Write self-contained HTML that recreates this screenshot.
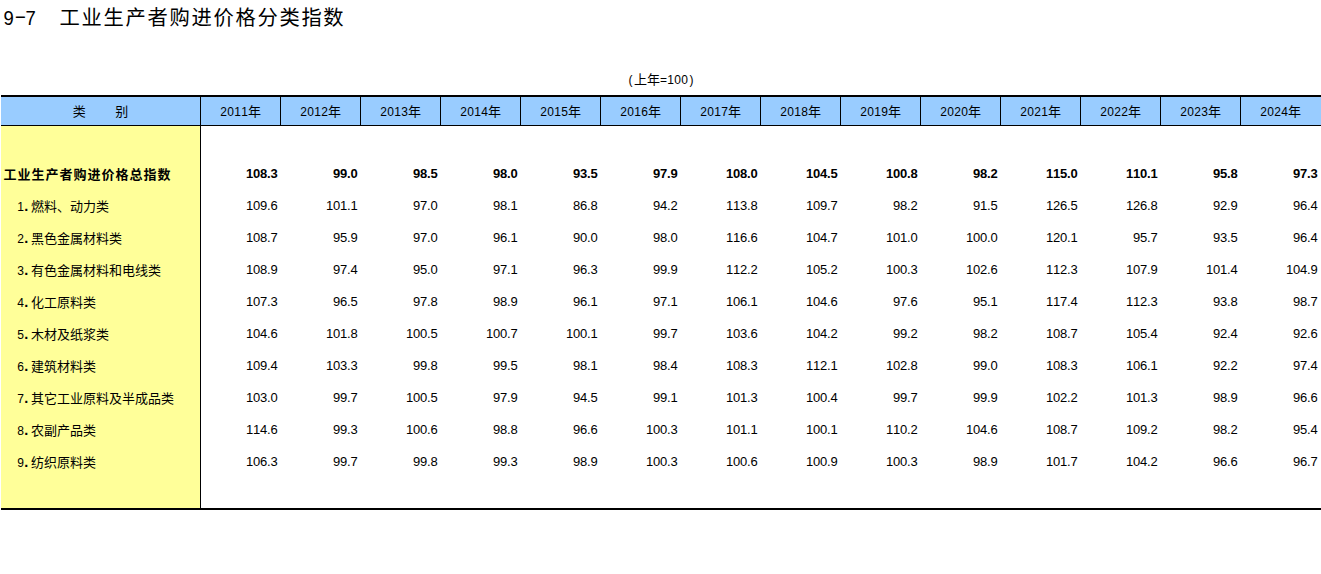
<!DOCTYPE html>
<html lang="zh-CN"><head><meta charset="utf-8"><title>9-7 工业生产者购进价格分类指数</title>
<style>
html,body{margin:0;padding:0;background:#fff;}
body{width:1321px;height:574px;position:relative;overflow:hidden;color:#000;
 font-family:"Liberation Sans","Noto Sans CJK SC",sans-serif;font-size:13px;}
.a{position:absolute;white-space:nowrap;}
.title{left:3px;top:5px;font-family:"Liberation Sans","Noto Sans CJK SC",sans-serif;font-size:20.3px;line-height:26px;font-weight:400;letter-spacing:1.7px;}
.title .d{position:relative;top:0px;left:-0.3px;display:inline-block;width:11px;text-align:center;letter-spacing:0;font-family:"Liberation Sans",sans-serif;font-size:20.5px;transform:scaleX(0.9);}
.title .sp{display:inline-block;width:23.6px;}
.s{font-family:"Liberation Sans","Noto Sans CJK SC",sans-serif;font-weight:400;font-size:13px;height:16px;line-height:16px;}
i{font-style:normal;display:inline-block;width:7px;text-align:center;font-family:"Liberation Sans",sans-serif;font-size:12px;}
i.p{text-align:left;font-weight:bold;transform:translate(0.6px,0) scale(1.2);transform-origin:30% 80%;}
.unit{left:561px;width:200px;top:72px;text-align:center;}
.hd{left:1px;top:95px;width:1320px;height:28px;background:#99ccff;border-top:2px solid #000;border-bottom:1px solid #000;}
.yl{left:1px;top:126px;width:199px;height:382px;background:#ffff99;}
.vl{top:97px;width:1px;height:28px;background:#000;}
.v0{left:200px;top:95px;width:1px;height:415px;background:#000;}
.bt{left:1px;top:508px;width:1320px;height:2px;background:#000;}
.h{top:104px;text-align:center;}
.lb{font-weight:700;letter-spacing:1px;left:3.4px;}
.ls{left:17.1px;}
.v{font-kerning:none;width:77.4px;height:16px;line-height:16px;text-align:right;font-family:"Liberation Sans",sans-serif;font-size:13px;letter-spacing:-0.25px;}
.b{font-weight:bold;}
</style></head><body>
<div class="a title"><span class="d">9</span><span class="d" style="transform:translate(0.8px,-1.7px) scaleX(1.8)">-</span><span class="d">7</span><span class="sp"></span>工业生产者购进价格分类指数</div>
<div class="a s unit"><i>(</i>上年<i>=</i><i>1</i><i>0</i><i>0</i><i>)</i></div>
<div class="a hd"></div><div class="a yl"></div><div class="a v0"></div><div class="a bt"></div>
<div class="a vl" style="left:280px"></div><div class="a vl" style="left:360px"></div><div class="a vl" style="left:440px"></div><div class="a vl" style="left:520px"></div><div class="a vl" style="left:600px"></div><div class="a vl" style="left:680px"></div><div class="a vl" style="left:760px"></div><div class="a vl" style="left:840px"></div><div class="a vl" style="left:920px"></div><div class="a vl" style="left:1000px"></div><div class="a vl" style="left:1080px"></div><div class="a vl" style="left:1160px"></div><div class="a vl" style="left:1240px"></div>
<div class="a s h" style="left:1px;width:199px;">类<span style="display:inline-block;width:29.4px"></span>别</div>
<div class="a s h" style="left:201px;width:79px;"><i>2</i><i>0</i><i>1</i><i>1</i>年</div><div class="a s h" style="left:281px;width:79px;"><i>2</i><i>0</i><i>1</i><i>2</i>年</div><div class="a s h" style="left:361px;width:79px;"><i>2</i><i>0</i><i>1</i><i>3</i>年</div><div class="a s h" style="left:441px;width:79px;"><i>2</i><i>0</i><i>1</i><i>4</i>年</div><div class="a s h" style="left:521px;width:79px;"><i>2</i><i>0</i><i>1</i><i>5</i>年</div><div class="a s h" style="left:601px;width:79px;"><i>2</i><i>0</i><i>1</i><i>6</i>年</div><div class="a s h" style="left:681px;width:79px;"><i>2</i><i>0</i><i>1</i><i>7</i>年</div><div class="a s h" style="left:761px;width:79px;"><i>2</i><i>0</i><i>1</i><i>8</i>年</div><div class="a s h" style="left:841px;width:79px;"><i>2</i><i>0</i><i>1</i><i>9</i>年</div><div class="a s h" style="left:921px;width:79px;"><i>2</i><i>0</i><i>2</i><i>0</i>年</div><div class="a s h" style="left:1001px;width:79px;"><i>2</i><i>0</i><i>2</i><i>1</i>年</div><div class="a s h" style="left:1081px;width:79px;"><i>2</i><i>0</i><i>2</i><i>2</i>年</div><div class="a s h" style="left:1161px;width:79px;"><i>2</i><i>0</i><i>2</i><i>3</i>年</div><div class="a s h" style="left:1241px;width:79px;"><i>2</i><i>0</i><i>2</i><i>4</i>年</div>
<div class="a s lb" style="top:167px">工业生产者购进价格总指数</div><div class="a v b" style="left:200px;top:166px">108.3</div><div class="a v b" style="left:280px;top:166px">99.0</div><div class="a v b" style="left:360px;top:166px">98.5</div><div class="a v b" style="left:440px;top:166px">98.0</div><div class="a v b" style="left:520px;top:166px">93.5</div><div class="a v b" style="left:600px;top:166px">97.9</div><div class="a v b" style="left:680px;top:166px">108.0</div><div class="a v b" style="left:760px;top:166px">104.5</div><div class="a v b" style="left:840px;top:166px">100.8</div><div class="a v b" style="left:920px;top:166px">98.2</div><div class="a v b" style="left:1000px;top:166px">115.0</div><div class="a v b" style="left:1080px;top:166px">110.1</div><div class="a v b" style="left:1160px;top:166px">95.8</div><div class="a v b" style="left:1240px;top:166px">97.3</div>
<div class="a s ls" style="top:199px"><i>1</i><i class="p">.</i>燃料、动力类</div><div class="a v" style="left:200px;top:198px">109.6</div><div class="a v" style="left:280px;top:198px">101.1</div><div class="a v" style="left:360px;top:198px">97.0</div><div class="a v" style="left:440px;top:198px">98.1</div><div class="a v" style="left:520px;top:198px">86.8</div><div class="a v" style="left:600px;top:198px">94.2</div><div class="a v" style="left:680px;top:198px">113.8</div><div class="a v" style="left:760px;top:198px">109.7</div><div class="a v" style="left:840px;top:198px">98.2</div><div class="a v" style="left:920px;top:198px">91.5</div><div class="a v" style="left:1000px;top:198px">126.5</div><div class="a v" style="left:1080px;top:198px">126.8</div><div class="a v" style="left:1160px;top:198px">92.9</div><div class="a v" style="left:1240px;top:198px">96.4</div>
<div class="a s ls" style="top:231px"><i>2</i><i class="p">.</i>黑色金属材料类</div><div class="a v" style="left:200px;top:230px">108.7</div><div class="a v" style="left:280px;top:230px">95.9</div><div class="a v" style="left:360px;top:230px">97.0</div><div class="a v" style="left:440px;top:230px">96.1</div><div class="a v" style="left:520px;top:230px">90.0</div><div class="a v" style="left:600px;top:230px">98.0</div><div class="a v" style="left:680px;top:230px">116.6</div><div class="a v" style="left:760px;top:230px">104.7</div><div class="a v" style="left:840px;top:230px">101.0</div><div class="a v" style="left:920px;top:230px">100.0</div><div class="a v" style="left:1000px;top:230px">120.1</div><div class="a v" style="left:1080px;top:230px">95.7</div><div class="a v" style="left:1160px;top:230px">93.5</div><div class="a v" style="left:1240px;top:230px">96.4</div>
<div class="a s ls" style="top:263px"><i>3</i><i class="p">.</i>有色金属材料和电线类</div><div class="a v" style="left:200px;top:262px">108.9</div><div class="a v" style="left:280px;top:262px">97.4</div><div class="a v" style="left:360px;top:262px">95.0</div><div class="a v" style="left:440px;top:262px">97.1</div><div class="a v" style="left:520px;top:262px">96.3</div><div class="a v" style="left:600px;top:262px">99.9</div><div class="a v" style="left:680px;top:262px">112.2</div><div class="a v" style="left:760px;top:262px">105.2</div><div class="a v" style="left:840px;top:262px">100.3</div><div class="a v" style="left:920px;top:262px">102.6</div><div class="a v" style="left:1000px;top:262px">112.3</div><div class="a v" style="left:1080px;top:262px">107.9</div><div class="a v" style="left:1160px;top:262px">101.4</div><div class="a v" style="left:1240px;top:262px">104.9</div>
<div class="a s ls" style="top:295px"><i>4</i><i class="p">.</i>化工原料类</div><div class="a v" style="left:200px;top:294px">107.3</div><div class="a v" style="left:280px;top:294px">96.5</div><div class="a v" style="left:360px;top:294px">97.8</div><div class="a v" style="left:440px;top:294px">98.9</div><div class="a v" style="left:520px;top:294px">96.1</div><div class="a v" style="left:600px;top:294px">97.1</div><div class="a v" style="left:680px;top:294px">106.1</div><div class="a v" style="left:760px;top:294px">104.6</div><div class="a v" style="left:840px;top:294px">97.6</div><div class="a v" style="left:920px;top:294px">95.1</div><div class="a v" style="left:1000px;top:294px">117.4</div><div class="a v" style="left:1080px;top:294px">112.3</div><div class="a v" style="left:1160px;top:294px">93.8</div><div class="a v" style="left:1240px;top:294px">98.7</div>
<div class="a s ls" style="top:327px"><i>5</i><i class="p">.</i>木材及纸浆类</div><div class="a v" style="left:200px;top:326px">104.6</div><div class="a v" style="left:280px;top:326px">101.8</div><div class="a v" style="left:360px;top:326px">100.5</div><div class="a v" style="left:440px;top:326px">100.7</div><div class="a v" style="left:520px;top:326px">100.1</div><div class="a v" style="left:600px;top:326px">99.7</div><div class="a v" style="left:680px;top:326px">103.6</div><div class="a v" style="left:760px;top:326px">104.2</div><div class="a v" style="left:840px;top:326px">99.2</div><div class="a v" style="left:920px;top:326px">98.2</div><div class="a v" style="left:1000px;top:326px">108.7</div><div class="a v" style="left:1080px;top:326px">105.4</div><div class="a v" style="left:1160px;top:326px">92.4</div><div class="a v" style="left:1240px;top:326px">92.6</div>
<div class="a s ls" style="top:359px"><i>6</i><i class="p">.</i>建筑材料类</div><div class="a v" style="left:200px;top:358px">109.4</div><div class="a v" style="left:280px;top:358px">103.3</div><div class="a v" style="left:360px;top:358px">99.8</div><div class="a v" style="left:440px;top:358px">99.5</div><div class="a v" style="left:520px;top:358px">98.1</div><div class="a v" style="left:600px;top:358px">98.4</div><div class="a v" style="left:680px;top:358px">108.3</div><div class="a v" style="left:760px;top:358px">112.1</div><div class="a v" style="left:840px;top:358px">102.8</div><div class="a v" style="left:920px;top:358px">99.0</div><div class="a v" style="left:1000px;top:358px">108.3</div><div class="a v" style="left:1080px;top:358px">106.1</div><div class="a v" style="left:1160px;top:358px">92.2</div><div class="a v" style="left:1240px;top:358px">97.4</div>
<div class="a s ls" style="top:391px"><i>7</i><i class="p">.</i>其它工业原料及半成品类</div><div class="a v" style="left:200px;top:390px">103.0</div><div class="a v" style="left:280px;top:390px">99.7</div><div class="a v" style="left:360px;top:390px">100.5</div><div class="a v" style="left:440px;top:390px">97.9</div><div class="a v" style="left:520px;top:390px">94.5</div><div class="a v" style="left:600px;top:390px">99.1</div><div class="a v" style="left:680px;top:390px">101.3</div><div class="a v" style="left:760px;top:390px">100.4</div><div class="a v" style="left:840px;top:390px">99.7</div><div class="a v" style="left:920px;top:390px">99.9</div><div class="a v" style="left:1000px;top:390px">102.2</div><div class="a v" style="left:1080px;top:390px">101.3</div><div class="a v" style="left:1160px;top:390px">98.9</div><div class="a v" style="left:1240px;top:390px">96.6</div>
<div class="a s ls" style="top:423px"><i>8</i><i class="p">.</i>农副产品类</div><div class="a v" style="left:200px;top:422px">114.6</div><div class="a v" style="left:280px;top:422px">99.3</div><div class="a v" style="left:360px;top:422px">100.6</div><div class="a v" style="left:440px;top:422px">98.8</div><div class="a v" style="left:520px;top:422px">96.6</div><div class="a v" style="left:600px;top:422px">100.3</div><div class="a v" style="left:680px;top:422px">101.1</div><div class="a v" style="left:760px;top:422px">100.1</div><div class="a v" style="left:840px;top:422px">110.2</div><div class="a v" style="left:920px;top:422px">104.6</div><div class="a v" style="left:1000px;top:422px">108.7</div><div class="a v" style="left:1080px;top:422px">109.2</div><div class="a v" style="left:1160px;top:422px">98.2</div><div class="a v" style="left:1240px;top:422px">95.4</div>
<div class="a s ls" style="top:455px"><i>9</i><i class="p">.</i>纺织原料类</div><div class="a v" style="left:200px;top:454px">106.3</div><div class="a v" style="left:280px;top:454px">99.7</div><div class="a v" style="left:360px;top:454px">99.8</div><div class="a v" style="left:440px;top:454px">99.3</div><div class="a v" style="left:520px;top:454px">98.9</div><div class="a v" style="left:600px;top:454px">100.3</div><div class="a v" style="left:680px;top:454px">100.6</div><div class="a v" style="left:760px;top:454px">100.9</div><div class="a v" style="left:840px;top:454px">100.3</div><div class="a v" style="left:920px;top:454px">98.9</div><div class="a v" style="left:1000px;top:454px">101.7</div><div class="a v" style="left:1080px;top:454px">104.2</div><div class="a v" style="left:1160px;top:454px">96.6</div><div class="a v" style="left:1240px;top:454px">96.7</div>
</body></html>
